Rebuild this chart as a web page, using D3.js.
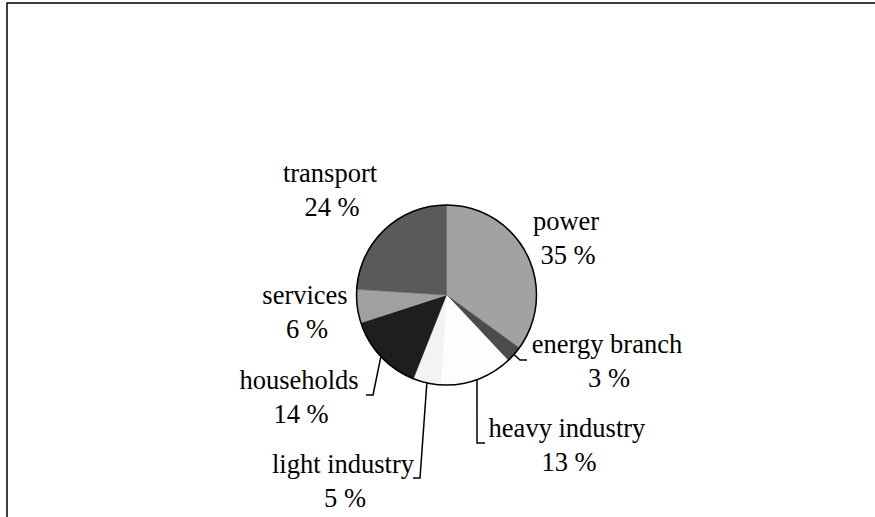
<!DOCTYPE html>
<html>
<head>
<meta charset="utf-8">
<script src="https://cdn.jsdelivr.net/npm/d3@7"></script>
<style>
  html, body { margin: 0; padding: 0; background: #fff; }
  svg { display: block; }
</style>
</head>
<body>
<svg id="chart" width="875" height="517"></svg>
<script>
// ---- data ----
const categories = ["power", "energy branch", "heavy industry", "light industry", "households", "services", "transport"];
const shares = [35, 3, 13, 5, 14, 6, 24];
const sliceColors = ["#a2a2a2", "#4b4b4b", "#fdfdfd", "#f3f3f3", "#1e1e1e", "#a0a0a0", "#5a5a5a"];

// ---- layout (label positions: centre x, baseline of first line) ----
const labelLayout = {
  "power":          { x: 566, y: 230, leader: null },
  "energy branch":  { x: 607, y: 353, leader: [[520, 360], [527, 360]] },
  "heavy industry": { x: 567, y: 437, leader: [[477, 443], [485, 443]] },
  "light industry": { x: 343, y: 473, leader: [[420, 478], [413, 478]] },
  "households":     { x: 299, y: 389, leader: [[373, 395], [366, 395]] },
  "services":       { x: 305, y: 304, leader: null },
  "transport":      { x: 330, y: 182, leader: null }
};

const svg = d3.select("#chart");
const W = 875, H = 517;
const cx = 446.5, cy = 295, R = 90;
const lineGap = 34;

// frame
svg.append("rect")
  .attr("x", 7).attr("y", 3)
  .attr("width", W + 10).attr("height", H + 10)
  .attr("fill", "none").attr("stroke", "#000").attr("stroke-width", 1.5);

const data = categories.map((c, i) => ({ name: c, value: shares[i], color: sliceColors[i] }));

const pie = d3.pie().value(d => d.value).sort(null);
const arcs = pie(data);
const arc = d3.arc().innerRadius(0).outerRadius(R);

const g = svg.append("g").attr("transform", `translate(${cx},${cy})`);

g.selectAll("path.slice")
  .data(arcs)
  .join("path")
  .attr("class", "slice")
  .attr("d", arc)
  .attr("fill", d => d.data.color)
  .attr("stroke", d => d.data.color)
  .attr("stroke-width", 0.5);

g.append("circle")
  .attr("r", R)
  .attr("fill", "none")
  .attr("stroke", "#000")
  .attr("stroke-width", 1.5);

// leader lines
arcs.forEach(a => {
  const L = labelLayout[a.data.name];
  if (!L.leader) return;
  const mid = (a.startAngle + a.endAngle) / 2;
  const px = cx + R * Math.sin(mid);
  const py = cy - R * Math.cos(mid);
  const pts = [[px, py]].concat(L.leader);
  svg.append("path")
    .attr("d", d3.line()(pts))
    .attr("fill", "none")
    .attr("stroke", "#000")
    .attr("stroke-width", 1.5);
});

// labels
arcs.forEach(a => {
  const L = labelLayout[a.data.name];
  const t = svg.append("text")
    .attr("text-anchor", "middle")
    .attr("font-family", "'Liberation Serif', 'Times New Roman', serif")
    .attr("font-size", 26.5)
    .attr("fill", "#000");
  t.append("tspan").attr("x", L.x).attr("y", L.y).text(a.data.name);
  t.append("tspan").attr("x", L.x + 2).attr("y", L.y + lineGap).text(a.data.value + " %");
});
</script>
</body>
</html>
